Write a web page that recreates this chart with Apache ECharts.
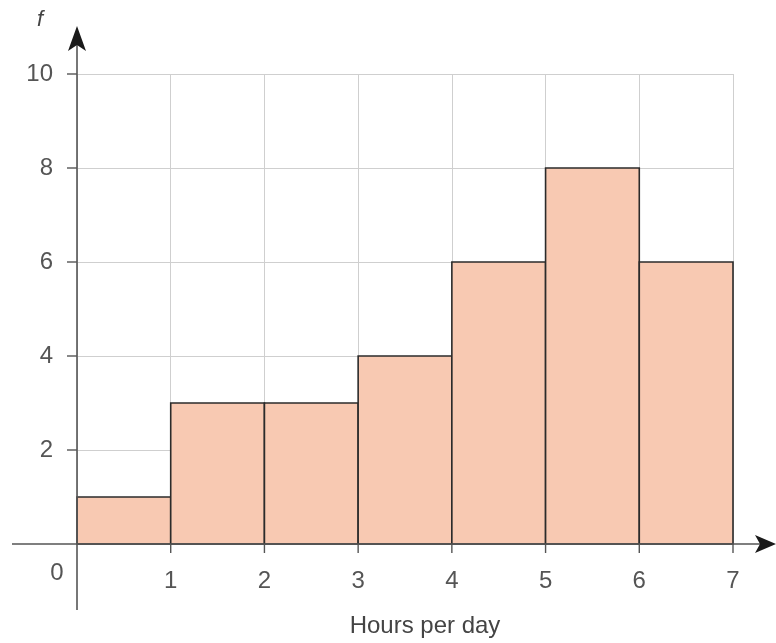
<!DOCTYPE html>
<html>
<head>
<meta charset="utf-8">
<script src="https://cdn.jsdelivr.net/npm/echarts@6/dist/echarts.min.js"></script>
<style>
html,body{margin:0;padding:0;background:#fff;}
#main{width:776px;height:643px;}
</style>
</head>
<body>
<div id="main"></div>
<script>
const binStart = [0, 1, 2, 3, 4, 5, 6];
const binEnd = [1, 2, 3, 4, 5, 6, 7];
const freq = [1, 3, 3, 4, 6, 8, 6];
const xTickValues = [1, 2, 3, 4, 5, 6, 7];
const yTickValues = [2, 4, 6, 8, 10];
const xName = 'Hours per day';
const yName = 'f';

const FONT = '"Liberation Sans Narrow", "Arial Narrow", "Liberation Sans", sans-serif';
const LABEL_COLOR = '#555';
const AXIS_COLOR = '#555';

const chart = echarts.init(document.getElementById('main'));
const data = binStart.map((s, i) => [s, binEnd[i], freq[i]]);

chart.setOption({
  animation: false,
  backgroundColor: '#fff',
  grid: { left: 77, right: 43, top: 74, bottom: 99 },
  xAxis: {
    type: 'value', min: 0, max: 7, interval: 1,
    axisLine: { show: false },
    axisTick: { show: false },
    axisLabel: { show: false },
    splitLine: { show: true, lineStyle: { color: '#cfcfcf', width: 1 } }
  },
  yAxis: {
    type: 'value', min: 0, max: 10, interval: 2,
    axisLine: { show: false },
    axisTick: { show: false },
    axisLabel: { show: false },
    splitLine: { show: true, lineStyle: { color: '#cfcfcf', width: 1 } }
  },
  series: [{
    type: 'custom',
    data: data,
    encode: { x: [0, 1], y: 2 },
    renderItem: function (params, api) {
      const p0 = api.coord([api.value(0), api.value(2)]);
      const p1 = api.coord([api.value(1), 0]);
      return {
        type: 'rect',
        shape: { x: p0[0], y: p0[1], width: p1[0] - p0[0], height: p1[1] - p0[1] },
        style: { fill: '#f8c9b2', stroke: '#2b2b2b', lineWidth: 1.6 }
      };
    }
  }]
});

function px(v) { return chart.convertToPixel({ gridIndex: 0 }, v); }
const o = px([0, 0]);
const xEnd = px([7, 0]);
const yTop = px([0, 10]);
const g = [];
// axis lines
g.push({ type: 'line', shape: { x1: 12, y1: o[1], x2: 764, y2: o[1] }, style: { stroke: AXIS_COLOR, lineWidth: 1.6 }, z: 100 });
g.push({ type: 'line', shape: { x1: o[0], y1: 610, x2: o[0], y2: 40 }, style: { stroke: AXIS_COLOR, lineWidth: 1.6 }, z: 100 });
// arrows
g.push({ type: 'polygon', shape: { points: [[776, o[1]], [755, o[1] - 9], [760, o[1]], [755, o[1] + 9]] }, style: { fill: '#1a1a1a' }, z: 100 });
g.push({ type: 'polygon', shape: { points: [[o[0], 26], [o[0] - 9, 51], [o[0], 45], [o[0] + 9, 51]] }, style: { fill: '#1a1a1a' }, z: 100 });
// x ticks and labels
xTickValues.forEach(v => {
  const p = px([v, 0]);
  g.push({ type: 'line', shape: { x1: p[0], y1: p[1], x2: p[0], y2: p[1] + 9 }, style: { stroke: AXIS_COLOR, lineWidth: 1.4 }, z: 100 });
  g.push({ type: 'text', x: p[0], y: p[1] + 37, style: { text: String(v), font: '24px ' + FONT, fill: LABEL_COLOR, align: 'center', verticalAlign: 'middle' }, z: 100 });
});
// y ticks and labels
yTickValues.forEach(v => {
  const p = px([0, v]);
  g.push({ type: 'line', shape: { x1: p[0] - 10, y1: p[1], x2: p[0], y2: p[1] }, style: { stroke: AXIS_COLOR, lineWidth: 1.4 }, z: 100 });
  g.push({ type: 'text', x: p[0] - 24, y: p[1], style: { text: String(v), font: '24px ' + FONT, fill: LABEL_COLOR, align: 'right', verticalAlign: 'middle' }, z: 100 });
});
// origin label
g.push({ type: 'text', x: o[0] - 20, y: o[1] + 29, style: { text: '0', font: '24px ' + FONT, fill: LABEL_COLOR, align: 'center', verticalAlign: 'middle' }, z: 100 });
// axis names
g.push({ type: 'text', x: (o[0] + xEnd[0]) / 2 + 20, y: 626, style: { text: xName, font: '24px ' + FONT, fill: '#444', align: 'center', verticalAlign: 'middle' }, z: 100 });
g.push({ type: 'text', x: 40, y: 20, style: { text: yName, font: 'italic 22px ' + FONT, fill: '#444', align: 'center', verticalAlign: 'middle' }, z: 100 });

chart.setOption({ graphic: g });
</script>
</body>
</html>
